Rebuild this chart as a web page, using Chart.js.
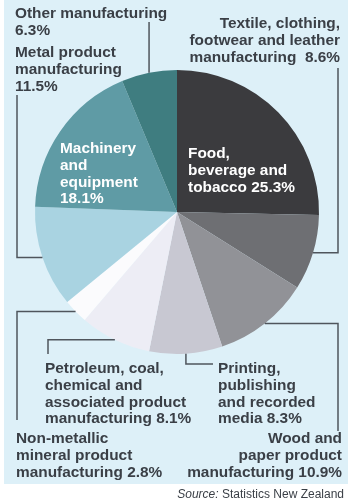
<!DOCTYPE html>
<html>
<head>
<meta charset="utf-8">
<script src="https://cdn.jsdelivr.net/npm/chart.js@4.4.0/dist/chart.umd.min.js"></script>
<style>
  html, body { margin: 0; padding: 0; background: #fff; }
  #wrap { position: relative; width: 354px; height: 501px; overflow: hidden; }
  #panel { position: absolute; left: 4px; top: 0; width: 344px; height: 484px; background: #ddf0f8; }
  #chart { position: absolute; left: 0; top: 0; }
  .lbl {
    position: absolute; font-family: "Liberation Sans", Arial, sans-serif; font-weight: bold;
    font-size: 15.4px; line-height: 16.8px; color: #3a3f46; white-space: pre;
  }
  .src {
    position: absolute; right: 10px; top: 487px; font-family: "Liberation Sans", Arial, sans-serif;
    font-size: 12px; line-height: 14px; color: #3a3f46;
  }
</style>
</head>
<body>
<div id="wrap">
  <div id="panel"></div>
  <canvas id="chart" width="354" height="501"></canvas>
  <div class="src"><i>Source:</i> Statistics New Zealand</div>
</div>
<script>
// clockwise from 12 o'clock
const categories = [
  'Food,\nbeverage and\ntobacco',
  'Textile, clothing,\nfootwear and leather\nmanufacturing',
  'Wood and\npaper product\nmanufacturing',
  'Printing,\npublishing\nand recorded\nmedia',
  'Petroleum, coal,\nchemical and\nassociated product\nmanufacturing',
  'Non-metallic\nmineral product\nmanufacturing',
  'Metal product\nmanufacturing',
  'Machinery\nand\nequipment',
  'Other manufacturing'
];
const shares = [25.3, 8.6, 10.9, 8.3, 8.1, 2.8, 11.5, 18.1, 6.3];
const sliceColors = ['#3b3b3e', '#6e6f73', '#919297', '#c8c8d2', '#ededf5', '#fbfbfd', '#a9d3e1', '#5f9ba5', '#3f7d80'];

// label placement and leader line routes (x = go horizontally to, y = go vertically to)
const layout = [
  { left: 188, top: 145, color: '#fff', sep: ' ' },
  { right: 14, top: 15, align: 'right', sep: '\u00a0\u00a0', lead: [{ x: 338 }, { y: 68 }] },
  { right: 12, top: 430, align: 'right', sep: ' ', lead: [{ x: 338 }, { y: 431 }] },
  { left: 218, top: 360, sep: ' ', lead: [{ y: 364 }, { x: 213 }] },
  { left: 45, top: 360, sep: ' ', lead: [{ x: 48 }, { y: 354 }] },
  { left: 16, top: 430, sep: ' ', lead: [{ x: 17 }, { y: 420 }] },
  { left: 15, top: 44, sep: '\n', lead: [{ x: 17 }, { y: 95 }] },
  { left: 60, top: 140, color: '#fff', sep: '\n' },
  { left: 15, top: 5, sep: '\n', lead: [{ y: 22 }] }
];

const wrap = document.getElementById('wrap');
categories.forEach((name, i) => {
  const L = layout[i];
  const d = document.createElement('div');
  d.className = 'lbl';
  d.textContent = name + L.sep + shares[i].toFixed(1) + '%';
  d.style.top = L.top + 'px';
  if (L.left !== undefined) d.style.left = L.left + 'px';
  if (L.right !== undefined) d.style.right = L.right + 'px';
  if (L.align) d.style.textAlign = L.align;
  if (L.color) d.style.color = L.color;
  wrap.appendChild(d);
});

const leaderLines = {
  id: 'leaderLines',
  afterDatasetsDraw(chart) {
    const ctx = chart.ctx;
    const meta = chart.getDatasetMeta(0);
    ctx.save();
    ctx.strokeStyle = '#4f555c';
    ctx.lineWidth = 1.5;
    meta.data.forEach((arc, i) => {
      const route = layout[i].lead;
      if (!route) return;
      const p = arc.getProps(['x', 'y', 'startAngle', 'endAngle', 'outerRadius'], true);
      const mid = (p.startAngle + p.endAngle) / 2;
      let x = p.x + Math.cos(mid) * p.outerRadius;
      let y = p.y + Math.sin(mid) * p.outerRadius;
      ctx.beginPath();
      ctx.moveTo(x, y);
      route.forEach(step => {
        if (step.x !== undefined) x = step.x;
        if (step.y !== undefined) y = step.y;
        ctx.lineTo(x, y);
      });
      ctx.stroke();
    });
    ctx.restore();
  }
};

new Chart(document.getElementById('chart'), {
  type: 'pie',
  data: {
    labels: categories.map(c => c.replace(/\n/g, ' ')),
    datasets: [{
      data: shares,
      backgroundColor: sliceColors,
      borderWidth: 0
    }]
  },
  options: {
    responsive: false,
    animation: false,
    layout: { padding: { left: 35, right: 35, top: 70, bottom: 147 } },
    plugins: {
      legend: { display: false },
      tooltip: { enabled: false }
    }
  },
  plugins: [leaderLines]
});
</script>
</body>
</html>
